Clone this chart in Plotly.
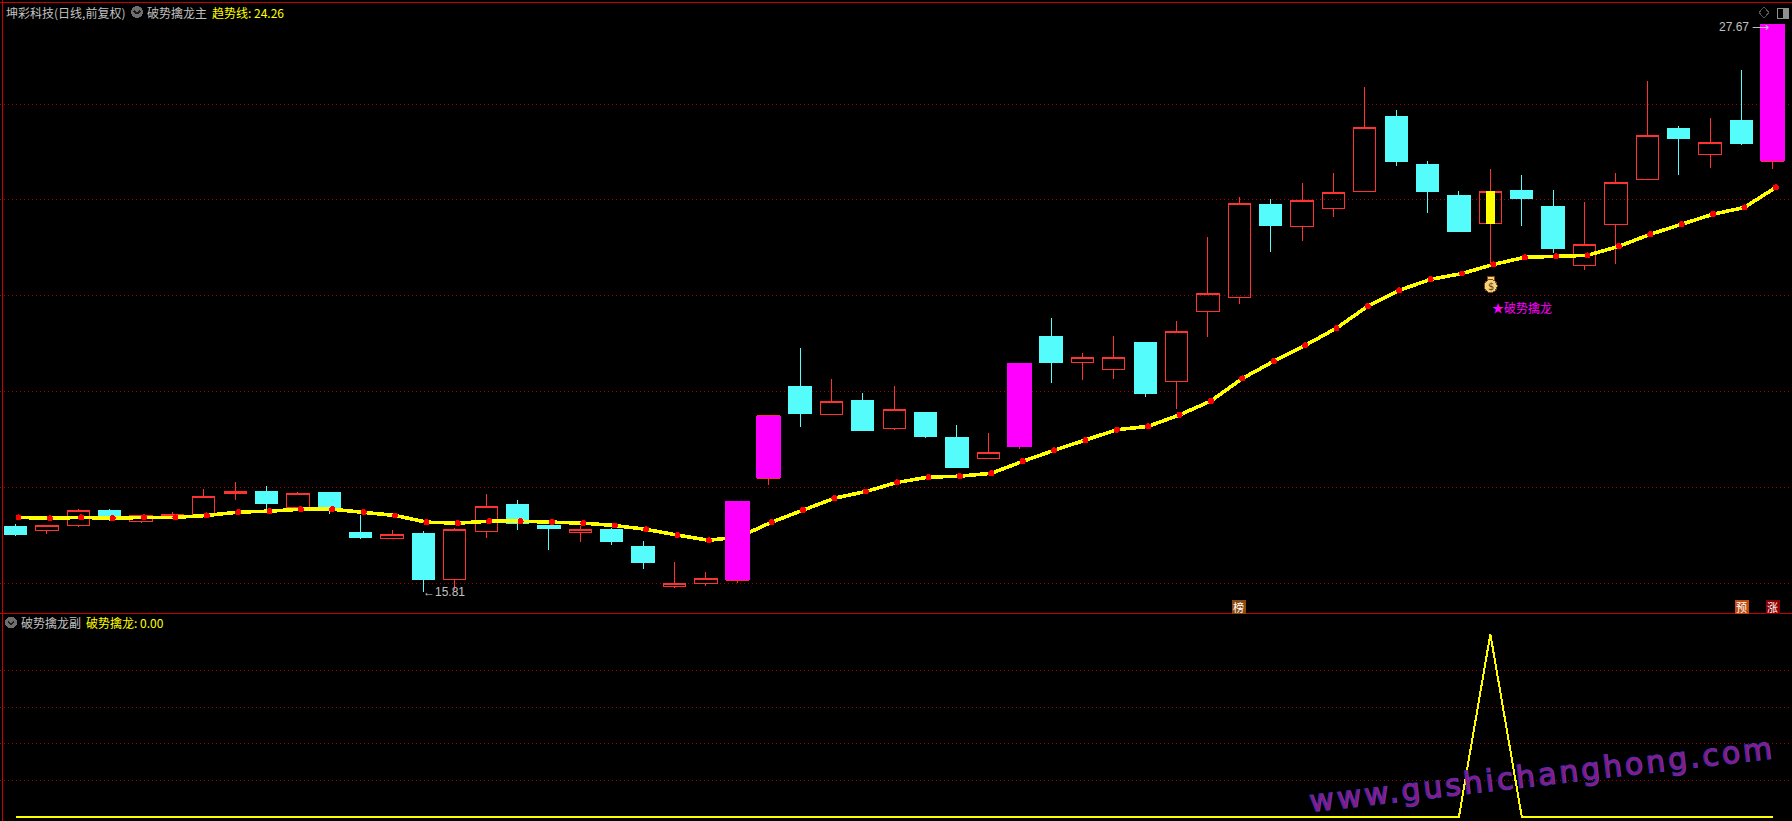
import plotly.graph_objects as go

W, H = 1792, 821

opens  = [17.17,17.09,17.20,17.52,17.28,17.34,17.43,17.87,17.90,17.57,17.88,17.06,16.93,17.04,16.07,17.07,
          17.63,17.21,17.06,17.11,16.77,15.92,15.99,16.06,18.19,20.11,19.51,19.80,19.22,19.55,19.03,18.60,18.84,21.14,20.60,
          20.45,21.03,20.20,21.67,21.96,23.91,23.45,23.82,24.18,25.73,24.73,24.08,23.50,24.20,23.85,22.62,23.48,24.43,25.48,24.94,25.65,24.81]
closes = [17.02,17.20,17.52,17.33,17.40,17.43,17.80,17.91,17.67,17.86,17.55,16.94,17.02,16.08,17.12,17.60,
          17.24,17.13,17.11,16.86,16.42,15.99,16.10,17.71,19.49,19.53,19.79,19.19,19.63,19.05,18.42,18.73,20.59,20.61,20.70,
          20.71,19.95,21.25,22.05,23.93,23.46,23.99,24.16,25.51,24.81,24.18,23.33,24.18,24.02,22.99,23.07,24.36,25.35,25.27,25.20,25.17,27.67]
highs  = [17.23,17.20,17.54,17.55,17.42,17.48,17.96,18.10,18.03,17.89,17.90,17.42,17.11,17.09,17.15,17.86,
          17.73,17.21,17.18,17.14,16.88,16.44,16.23,17.71,19.49,20.91,20.25,19.97,20.11,19.57,19.30,19.13,20.59,21.53,20.80,
          21.16,21.03,21.47,23.22,24.06,24.01,24.35,24.56,26.35,25.87,24.81,24.18,24.64,24.52,24.20,23.95,24.56,26.48,25.54,25.71,26.71,27.67]
lows   = [16.98,17.03,17.17,17.29,17.25,17.33,17.42,17.73,17.51,17.54,17.44,16.92,16.93,15.81,15.85,16.94,
          17.11,16.69,16.86,16.79,16.29,15.90,15.94,16.01,18.05,19.26,19.51,19.19,19.19,19.03,18.40,18.60,18.80,20.18,20.24,
          20.26,19.89,19.63,21.14,21.83,22.90,23.13,23.65,24.18,24.71,23.72,23.33,22.67,23.45,22.89,22.53,22.66,24.41,24.52,24.66,25.14,24.64]
trend  = [17.37,17.35,17.37,17.35,17.37,17.37,17.41,17.48,17.50,17.54,17.54,17.48,17.41,17.27,17.25,17.29,
          17.29,17.27,17.25,17.20,17.12,17.00,16.89,16.97,17.27,17.52,17.77,17.91,18.10,18.21,18.23,18.29,18.54,18.77,18.98,
          19.20,19.27,19.51,19.80,20.27,20.63,20.96,21.32,21.78,22.11,22.34,22.46,22.65,22.80,22.82,22.84,23.03,23.28,23.49,23.70,23.84,24.26]
signal_idx = 47
signal_value = 100
magenta_idx = [23, 24, 32, 56]
yellow_idx = [47]
main_grid = [16, 18, 20, 22, 24, 26]
sub_grid = [20, 40, 60, 80]

RED, CYAN, MAG, YEL = "#FF3232", "#54FCFC", "#FF00FF", "#FFFF00"
GRID, FRAME, GRAY = "#A80000", "#C80000", "#C0C0C0"
CJK = "Noto Sans CJK SC"

idx = list(range(len(opens)))
signal = [signal_value if i == signal_idx else 0 for i in idx]
TREND_SHIFT = 0.096   # the trend line sits slightly right of the candle centres


def px(x):
    return x / W


def py(y):
    return 1 - y / H


fig = go.Figure()
fig.add_trace(go.Candlestick(
    x=idx, open=opens, high=highs, low=lows, close=closes, xaxis="x", yaxis="y",
    increasing=dict(line=dict(color=RED, width=1), fillcolor="rgba(0,0,0,0)"),
    decreasing=dict(line=dict(color=CYAN, width=1), fillcolor=CYAN),
    hoverinfo="skip", showlegend=False))
fig.add_trace(go.Scatter(
    x=[i + TREND_SHIFT for i in idx], y=trend, mode="lines+markers", xaxis="x", yaxis="y",
    line=dict(color=YEL, width=3.6), marker=dict(color="#FF0000", size=6),
    hoverinfo="skip", showlegend=False))
fig.add_trace(go.Bar(
    x=magenta_idx, base=[opens[i] for i in magenta_idx],
    y=[closes[i] - opens[i] for i in magenta_idx], width=0.8, xaxis="x", yaxis="y3",
    marker=dict(color=MAG, line=dict(width=0)), hoverinfo="skip", showlegend=False))
fig.add_trace(go.Bar(
    x=yellow_idx, base=[opens[i] for i in yellow_idx],
    y=[closes[i] - opens[i] for i in yellow_idx], width=0.27, xaxis="x", yaxis="y3",
    marker=dict(color=YEL, line=dict(width=0)), hoverinfo="skip", showlegend=False))
fig.add_trace(go.Scatter(
    x=idx, y=signal, mode="lines", xaxis="x", yaxis="y2",
    line=dict(color=YEL, width=2), hoverinfo="skip", showlegend=False))


def ann(text, x, y, color=GRAY, size=12, anchor="left", family=CJK, **kw):
    return dict(text=text, x=px(x), y=py(y), xref="paper", yref="paper", showarrow=False,
                xanchor=anchor, yanchor="middle", borderpad=0,
                font=dict(color=color, size=size, family=family), **kw)


annotations = [
    ann("坤彩科技(日线,前复权)", 5, 12),
    ann("破势擒龙主", 146, 12),
    ann("趋势线: 24.26", 211, 12, color=YEL),
    ann("破势擒龙副", 20, 622.5),
    ann("破势擒龙: 0.00", 85, 622.5, color=YEL),
    dict(text="←15.81", x=13, y=lows[13], xref="x", yref="y", showarrow=False, xanchor="left", yanchor="middle",
         xshift=-2, font=dict(color=GRAY, size=12, family="Liberation Sans")),
    dict(text="27.67 ⟶", x=56, y=highs[56], xref="x", yref="y", showarrow=False, xanchor="right", yanchor="middle",
         xshift=-2, yshift=-3, font=dict(color=GRAY, size=12, family="Liberation Sans")),
    dict(text="★破势擒龙", x=yellow_idx[0], y=21.76, xref="x", yref="y", showarrow=False, xanchor="left",
         yanchor="middle", font=dict(color=MAG, size=12, family=CJK)),
    dict(text="$", x=px(1490.7), y=py(286), xref="paper", yref="paper", showarrow=False, xanchor="center",
         yanchor="middle", font=dict(color="#6A3A10", size=10, family="DejaVu Sans")),
    ann("榜", 1238.5, 606.5, color="#FFFFFF", size=11, anchor="center", bgcolor="#8B4A10", width=13, height=13),
    ann("预", 1741, 606.5, color="#FFFFFF", size=11, anchor="center", bgcolor="#C04A10", width=13, height=13),
    ann("涨", 1772, 606.5, color="#FFFFFF", size=11, anchor="center", bgcolor="#8B0000", width=13, height=13),
    dict(text="www.gushichanghong.com", x=px(1542), y=py(774), xref="paper", yref="paper", showarrow=False,
         xanchor="center", yanchor="middle", textangle=-6.6,
         font=dict(color="#8B1A80", size=30, family="DejaVu Sans")),
]


def line(x0, y0, x1, y1, color=FRAME, width=1):
    return dict(type="line", xref="paper", yref="paper", x0=px(x0), y0=py(y0), x1=px(x1), y1=py(y1),
                line=dict(color=color, width=width))


def circle(cx, cy, r, fill, stroke=None):
    return dict(type="circle", xref="paper", yref="paper", x0=px(cx - r), x1=px(cx + r), y0=py(cy - r), y1=py(cy + r),
                fillcolor=fill, line=dict(color=stroke or fill, width=1))


def chevron(cx, cy):
    return [line(cx - 3, cy - 1, cx, cy + 2, "#1A1A1A", 1.5), line(cx, cy + 2, cx + 3, cy - 1, "#1A1A1A", 1.5)]


shapes = [
    line(0, 2.5, W, 2.5, width=1), line(2.5, 0, 2.5, H, width=1), line(0, 613.5, W, 613.5, width=1),
    circle(137, 12, 5.5, "#6E6E6E"), *chevron(137, 12),
    circle(11, 622.5, 5.5, "#6E6E6E"), *chevron(11, 622.5),
    line(1764, 7, 1769, 12.5, "#555555"), line(1769, 12.5, 1764, 18, "#555555"),
    line(1764, 18, 1759, 12.5, "#555555"), line(1759, 12.5, 1764, 7, "#555555"),
    dict(type="rect", xref="paper", yref="paper", x0=px(1777.5), x1=px(1788), y0=py(18), y1=py(8),
         line=dict(color="#909090", width=1)),
    dict(type="rect", xref="paper", yref="paper", x0=px(1783), x1=px(1788), y0=py(18), y1=py(8),
         fillcolor="#909090", line=dict(width=0)),
    dict(type="rect", xref="paper", yref="paper", x0=px(1487.5), x1=px(1494), y0=py(280), y1=py(276),
         fillcolor="#F3D27A", line=dict(color="#7A4A10", width=1)),
    circle(1490.7, 286, 6.5, "#F3D27A", "#7A4A10"),
]

axis_off = dict(showticklabels=False, ticks="", zeroline=False, showline=False)
grid_on = dict(showgrid=True, gridcolor=GRID, griddash="1px,3px", gridwidth=1)
main_range = [16 + (583 - 613) / 47.9, 16 + (583 - 8) / 47.9]
main_domain = [py(613), py(8)]

fig.update_layout(
    width=W, height=H, autosize=False, margin=dict(l=0, r=0, t=0, b=0),
    paper_bgcolor="#000000", plot_bgcolor="#000000", showlegend=False,
    boxgap=0.29, boxgroupgap=0, barmode="overlay", dragmode=False, hovermode=False,
    xaxis=dict(range=[(0 - 15.5) / 31.38, (W - 15.5) / 31.38], domain=[0, 1], showgrid=False,
               rangeslider=dict(visible=False), anchor="y", **axis_off),
    yaxis=dict(domain=main_domain, range=main_range, tickmode="array", tickvals=main_grid, anchor="x",
               **grid_on, **axis_off),
    yaxis2=dict(domain=[0, py(614)], range=[(816.7 - 821) / 1.827, (816.7 - 614) / 1.827], tickmode="array",
                tickvals=sub_grid, anchor="x", **grid_on, **axis_off),
    yaxis3=dict(domain=main_domain, range=main_range, overlaying="y", anchor="x", showgrid=False, **axis_off),
    annotations=annotations, shapes=shapes,
)

post = """
document.documentElement.style.background='#000';
document.documentElement.style.overflow='hidden';
document.body.style.margin='0';
document.body.style.background='#000';
document.querySelectorAll('.main-svg').forEach(function(s){ s.style.shapeRendering='crispEdges'; });
document.querySelectorAll('.annotation-text').forEach(function(t){
  if(t.textContent.indexOf('www.')===0){
    t.style.letterSpacing='3px';
    t.style.stroke='#3838C8';
    t.style.strokeWidth='1.4px';
    t.style.paintOrder='stroke';
  }
});
"""
fig.write_html("out.html", post_script=post, config=dict(displayModeBar=False, staticPlot=True))
